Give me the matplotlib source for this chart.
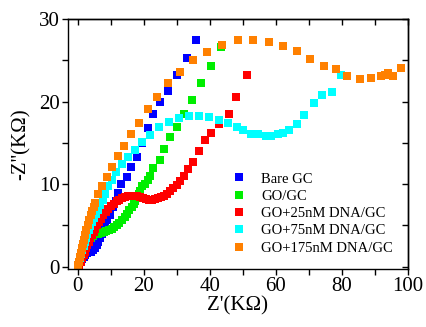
import matplotlib
matplotlib.use("Agg")
import matplotlib.pyplot as plt
from matplotlib.ticker import MultipleLocator

plt.rcParams['font.family'] = ['Liberation Serif', 'DejaVu Serif']

# data (Z' and -Z'' in kOhm)
bare_x = [0.3, 0.7, 1.2, 1.7, 2.2, 2.8, 3.4, 4.0, 4.6, 5.2, 5.7, 6.2, 6.7, 7.2, 7.7, 8.2,
          8.9, 9.7, 10.7, 11.5, 12.2, 13.2, 14.8, 16.1, 17.8, 19.4, 21.1, 22.8, 24.9, 27.3,
          29.9, 32.9, 35.7]
bare_y = [0.2, 0.5, 0.9, 1.2, 1.4, 1.6, 1.7, 1.8, 2.0, 2.3, 2.6, 3.0, 3.5, 4.0, 4.5, 5.0,
          5.6, 6.3, 7.2, 8.0, 8.9, 10.0, 10.9, 12.1, 13.3, 15.0, 16.8, 18.5, 19.9, 21.3,
          23.2, 25.3, 27.5]

go_x = [0.2, 0.6, 1.0, 1.5, 2.0, 2.6, 3.2, 3.9, 4.6, 5.4, 6.2, 7.0, 7.8, 8.6, 9.4, 10.2,
        11.0, 11.8, 12.6, 13.4, 14.2, 14.9, 15.6, 16.3, 16.9, 17.4, 17.9, 18.4, 18.9, 19.5,
        20.3, 21.1, 21.8, 22.8, 24.8, 26.2, 27.9, 29.9, 32.0, 34.6, 37.3, 40.3, 43.4]
go_y = [0.2, 0.7, 1.2, 1.7, 2.2, 2.6, 3.0, 3.4, 3.7, 3.9, 4.0, 4.1, 4.2, 4.3, 4.4, 4.6,
        4.8, 5.0, 5.3, 5.6, 6.0, 6.4, 6.8, 7.2, 7.6, 8.0, 8.4, 8.8, 9.2, 9.7,
        10.0, 10.5, 11.0, 11.9, 12.9, 14.2, 15.7, 16.9, 18.5, 20.2, 22.2, 24.3, 26.6]

dna25_x = [0.4, 0.9, 1.3, 1.7, 2.1, 2.5, 2.9, 3.3, 3.8, 4.3, 4.8, 5.3, 5.8, 6.4, 7.0, 7.7,
           8.4, 9.2, 10.0, 10.8, 11.7, 12.6, 13.5, 14.4, 15.3, 16.2, 17.1, 18.0, 18.9, 19.8,
           20.7, 21.6, 22.5, 23.4, 24.3, 25.2, 26.1, 27.0, 27.9, 28.9, 29.9, 31.0, 32.1,
           33.4, 34.9, 36.8, 38.5, 40.3, 42.6, 45.7, 48.0, 51.1]
dna25_y = [0.2, 0.6, 1.0, 1.4, 1.8, 2.2, 2.6, 3.0, 3.4, 3.8, 4.2, 4.6, 5.0, 5.4, 5.8, 6.2,
           6.6, 7.0, 7.3, 7.6, 7.9, 8.1, 8.3, 8.4, 8.5, 8.5, 8.5, 8.5, 8.4, 8.3,
           8.2, 8.1, 8.1, 8.2, 8.3, 8.4, 8.6, 8.8, 9.1, 9.5, 9.9, 10.4, 11.0,
           11.8, 12.7, 14.0, 15.3, 16.2, 17.3, 18.5, 20.6, 23.2]

dna75_x = [0.1, 0.3, 0.6, 0.9, 1.3, 1.7, 2.1, 2.5, 2.9, 3.3, 3.8, 4.3, 4.8, 5.4, 6.0, 6.7,
           7.5, 8.3, 9.2, 10.2, 11.6, 13.4, 15.2, 17.3, 19.5, 21.9, 24.5, 27.6, 30.6, 33.6,
           36.8, 39.8, 42.6, 45.4, 48.1, 50.1, 52.4, 54.6, 57.0, 58.5, 60.5, 62.2, 64.0,
           66.3, 68.6, 71.4, 74.0, 77.0, 79.8]
dna75_y = [0.2, 0.6, 1.0, 1.5, 2.0, 2.5, 3.0, 3.5, 4.0, 4.4, 4.9, 5.4, 5.9, 6.4, 6.9, 7.5,
           8.1, 8.8, 9.7, 10.5, 11.4, 12.4, 13.3, 14.1, 15.1, 16.0, 16.9, 17.5, 18.0, 18.2,
           18.2, 18.1, 17.7, 17.4, 16.9, 16.5, 16.1, 16.1, 15.8, 15.8, 16.1, 16.2, 16.6,
           17.3, 18.4, 19.8, 20.8, 21.2, 23.2]

dna175_x = [0.1, 0.3, 0.5, 0.8, 1.1, 1.4, 1.8, 2.2, 2.6, 3.0, 3.4, 3.9, 4.3, 4.8, 5.2, 6.1,
            7.4, 8.8, 10.4, 12.1, 14.0, 16.2, 18.5, 21.1, 23.9, 27.4, 30.9, 35.0, 39.0, 43.8,
            48.6, 53.1, 57.9, 62.2, 66.5, 70.3, 74.5, 78.1, 81.4, 85.5, 88.8, 91.8, 93.0,
            94.0, 95.5, 97.9]
dna175_y = [0.2, 0.6, 1.1, 1.6, 2.2, 2.7, 3.2, 3.8, 4.4, 5.0, 5.6, 6.2, 6.7, 7.2, 7.7, 8.8,
            9.8, 10.9, 12.1, 13.4, 14.6, 16.1, 17.4, 19.1, 20.6, 22.2, 23.6, 25.0, 26.0, 26.8,
            27.4, 27.5, 27.2, 26.7, 26.1, 25.2, 24.3, 23.9, 23.1, 22.7, 22.8, 23.1, 23.2,
            23.4, 23.1, 24.1]

series = [
    (bare_x, bare_y, '#0000ff', 'Bare GC'),
    (go_x, go_y, '#00ee00', 'GO/GC'),
    (dna25_x, dna25_y, '#ff0000', 'GO+25nM DNA/GC'),
    (dna75_x, dna75_y, '#00ffff', 'GO+75nM DNA/GC'),
    (dna175_x, dna175_y, '#ff8000', 'GO+175nM DNA/GC'),
]

fig = plt.figure(figsize=(4.27, 3.27), dpi=100)
ax = fig.add_axes([68/427, 58/327, 340/427, 250/327])

for x, y, c, lab in series:
    ax.plot(x, y, ls='none', marker='s', ms=5.2, mew=0, color=c, label=lab)

ax.set_xlim(-3, 100)
ax.set_ylim(-0.3, 30)
ax.xaxis.set_major_locator(MultipleLocator(20))
ax.xaxis.set_minor_locator(MultipleLocator(10))
ax.yaxis.set_major_locator(MultipleLocator(10))
ax.yaxis.set_minor_locator(MultipleLocator(5))
ax.tick_params(which='both', direction='out', length=4, width=1, labelsize=15, pad=2)

top = ax.secondary_xaxis('top')
top.xaxis.set_major_locator(MultipleLocator(20))
top.xaxis.set_minor_locator(MultipleLocator(10))
top.tick_params(which='both', direction='in', length=4, width=1, labeltop=False)
right = ax.secondary_yaxis('right')
right.yaxis.set_major_locator(MultipleLocator(10))
right.yaxis.set_minor_locator(MultipleLocator(5))
right.tick_params(which='both', direction='in', length=4, width=1, labelright=False)

for a in (ax, top, right):
    for s in a.spines.values():
        s.set_linewidth(1)

ax.set_xlabel("Z'(K\u03a9)", fontsize=15, labelpad=0)
ax.set_ylabel("-Z''(K\u03a9)", fontsize=15, labelpad=6)

ax.legend(loc='upper left', bbox_to_anchor=(0.47, 0.41), frameon=False,
          fontsize=10.5, handlelength=0.8, handletextpad=1.1, labelspacing=0.28,
          borderaxespad=0)

fig.savefig("out.png", dpi=100)
